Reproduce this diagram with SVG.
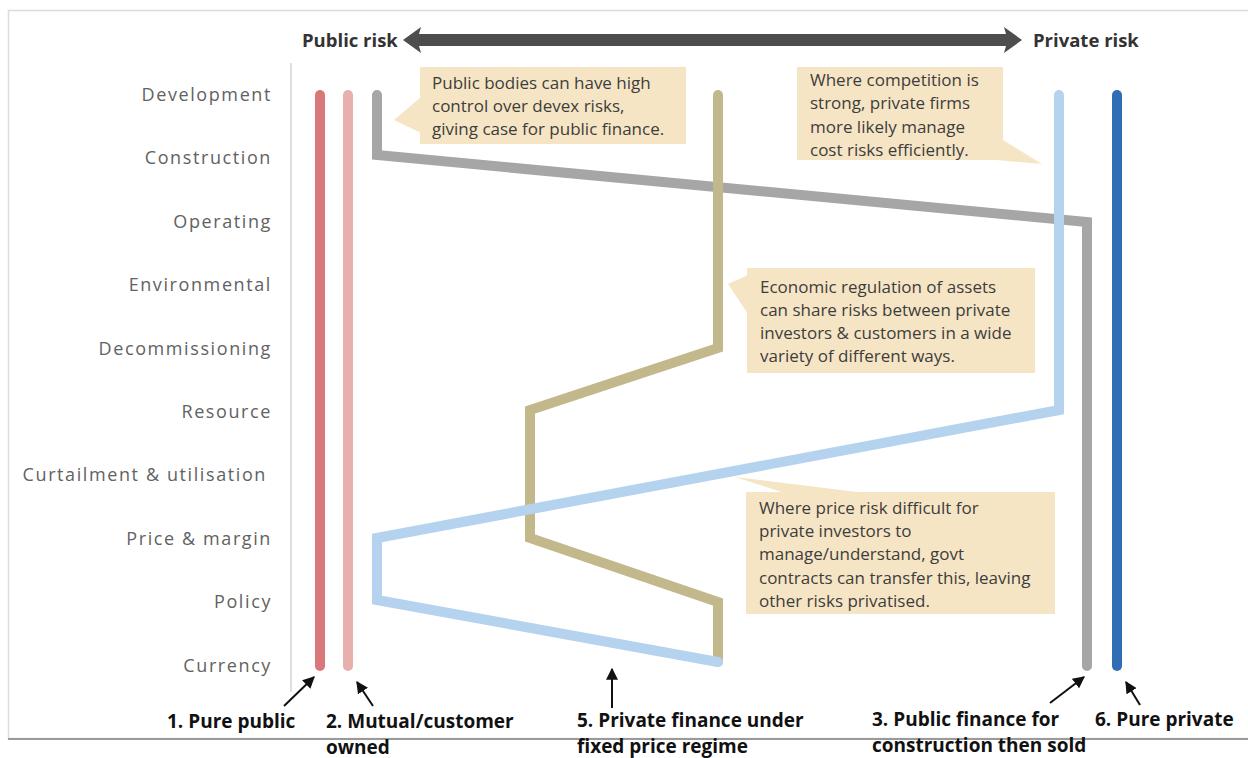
<svg xmlns="http://www.w3.org/2000/svg" width="1248" height="758" viewBox="0 0 1248 758">
<style>
.row{font-family:"Open Sans",sans-serif;font-size:18px;fill:#626262;text-anchor:end;letter-spacing:1.6px}
.ct{font-family:"Open Sans",sans-serif;font-size:17px;fill:#3d3d3d}
.cb{fill:#f6e5c4}
.lbl{font-family:"Open Sans",sans-serif;font-size:19px;font-weight:bold;fill:#111}
.ttl{font-family:"Open Sans",sans-serif;font-size:18.5px;font-weight:bold;fill:#333}
.ln{fill:none;stroke-width:10;stroke-linecap:round;stroke-linejoin:miter}
.ptr{stroke:#111;stroke-width:2;fill:none;marker-end:url(#ah)}
</style>
<defs>
<marker id="ah" viewBox="0 0 10 10" refX="9" refY="5" markerWidth="6" markerHeight="6" orient="auto">
<path d="M0,0 L10,5 L0,10 z" fill="#111"/>
</marker>
</defs>
<rect x="0" y="0" width="1248" height="758" fill="#fff"/>
<rect x="8.5" y="10.5" width="1250" height="728" fill="none" stroke="#dcdcdc" stroke-width="1.5"/>
<line x1="8" y1="739" x2="1248" y2="739" stroke="#9a9a9a" stroke-width="2"/>
<line x1="291" y1="63" x2="291" y2="692" stroke="#d5d5d5" stroke-width="1.5"/>

<g id="title">
<text class="ttl" x="302" y="47">Public risk</text>
<text class="ttl" x="1033" y="47">Private risk</text>
<polygon points="403,40 421,27 419,34 1006,34 1004,27 1022,40 1004,53 1006,46 419,46 421,53" fill="#4d4d4d"/>
</g>

<g id="rows">
<text class="row" x="272" y="101">Development</text>
<text class="row" x="272" y="164">Construction</text>
<text class="row" x="272" y="228">Operating</text>
<text class="row" x="272" y="291">Environmental</text>
<text class="row" x="272" y="355">Decommissioning</text>
<text class="row" x="272" y="418">Resource</text>
<text class="row" x="267" y="481">Curtailment &amp; utilisation</text>
<text class="row" x="272" y="545">Price &amp; margin</text>
<text class="row" x="272" y="608">Policy</text>
<text class="row" x="272" y="672">Currency</text>
</g>

<g id="connectors">
<polyline class="ln" stroke="#d9787a" points="320,95 320,666"/>
<polyline class="ln" stroke="#e8b0ad" points="348,95 348,666"/>
<polyline class="ln" stroke="#a6a6a6" points="377,95 377,155 1087,222 1087,666"/>
<polyline class="ln" stroke="#c2b88c" points="718,95 718,348 530,410 530,538 718,602 718,662"/>
<polyline class="ln" stroke="#b5d3ee" points="1059,95 1059,410 377,538 377,600 718,662"/>
<polyline class="ln" stroke="#2f6db5" points="1117,95 1117,666"/>
<line class="ptr" x1="284" y1="706" x2="314" y2="677"/>
<line class="ptr" x1="373" y1="706" x2="357" y2="682"/>
<line class="ptr" x1="612" y1="708" x2="612" y2="669"/>
<line class="ptr" x1="1050" y1="703" x2="1084" y2="677"/>
<line class="ptr" x1="1140" y1="705" x2="1126" y2="682"/>
</g>

<g id="callout-devex">
<rect class="cb" x="420" y="67" width="266" height="77"/>
<polygon class="cb" points="394,120 421,97 421,133"/>
<text class="ct" x="432" y="89">Public bodies can have high</text>
<text class="ct" x="432" y="112">control over devex risks,</text>
<text class="ct" x="432" y="135">giving case for public finance.</text>
</g>

<g id="callout-competition">
<rect class="cb" x="797" y="67" width="206" height="93"/>
<polygon class="cb" points="985,159 1003,140 1042,164"/>
<text class="ct" x="810" y="86">Where competition is</text>
<text class="ct" x="810" y="109">strong, private firms</text>
<text class="ct" x="810" y="133">more likely manage</text>
<text class="ct" x="810" y="156">cost risks efficiently.</text>
</g>

<g id="callout-regulation">
<rect class="cb" x="747" y="268" width="288" height="105"/>
<polygon class="cb" points="728,284 748,275 748,314"/>
<text class="ct" x="760" y="293">Economic regulation of assets</text>
<text class="ct" x="760" y="316">can share risks between private</text>
<text class="ct" x="760" y="339">investors &amp; customers in a wide</text>
<text class="ct" x="760" y="362">variety of different ways.</text>
</g>

<g id="callout-price">
<rect class="cb" x="746" y="492" width="309" height="122"/>
<polygon class="cb" points="735,477 785,493 865,493"/>
<text class="ct" x="759" y="514">Where price risk difficult for</text>
<text class="ct" x="759" y="537">private investors to</text>
<text class="ct" x="759" y="560">manage/understand, govt</text>
<text class="ct" x="759" y="584">contracts can transfer this, leaving</text>
<text class="ct" x="759" y="607">other risks privatised.</text>
</g>

<g id="labels">
<text class="lbl" x="167" y="728">1. Pure public</text>
<text class="lbl" x="326" y="728">2. Mutual/customer</text>
<text class="lbl" x="326" y="754">owned</text>
<text class="lbl" x="577" y="727">5. Private finance under</text>
<text class="lbl" x="577" y="753">fixed price regime</text>
<text class="lbl" x="872" y="726">3. Public finance for</text>
<text class="lbl" x="872" y="752">construction then sold</text>
<text class="lbl" x="1095" y="726">6. Pure private</text>
</g>
</svg>
